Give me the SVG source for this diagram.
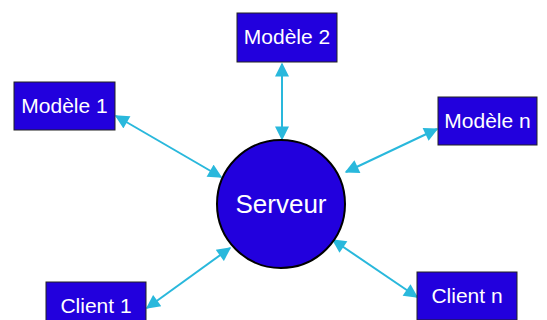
<svg xmlns="http://www.w3.org/2000/svg" width="547" height="320" viewBox="0 0 547 320">
<defs>
<style>
.box{fill:#2200DD;stroke:#222;stroke-width:1}
.lbl{fill:#fff;font-family:"Liberation Sans",Arial,sans-serif;font-size:21px;text-anchor:middle}
.con{stroke:#29B8DC;stroke-width:2;fill:none;marker-start:url(#ah);marker-end:url(#ah)}
</style>
<marker id="ah" viewBox="0 0 10 10" refX="9" refY="5" markerWidth="8" markerHeight="7" orient="auto-start-reverse" markerUnits="strokeWidth">
<path d="M0,0 L10,5 L0,10 z" fill="#29B8DC"/>
</marker>
</defs>
<rect width="547" height="320" fill="#fff"/>
<g id="connectors">
<line class="con" x1="282" y1="64" x2="282" y2="139"/>
<line class="con" x1="116" y1="116" x2="221" y2="177"/>
<line class="con" x1="437" y1="129" x2="346" y2="172"/>
<line class="con" x1="147" y1="308" x2="230" y2="248"/>
<line class="con" x1="333" y1="240" x2="417" y2="297"/>
</g>
<g id="serveur">
<circle cx="281" cy="204" r="64" fill="#2200DD" stroke="#000" stroke-width="2"/>
<text class="lbl" x="281" y="213" style="font-size:26px">Serveur</text>
</g>
<g id="modele2">
<rect class="box" x="237" y="13" width="100" height="49"/>
<text class="lbl" x="287" y="44">Modèle 2</text>
</g>
<g id="modele1">
<rect class="box" x="14" y="82" width="101" height="48"/>
<text class="lbl" x="64.5" y="113">Modèle 1</text>
</g>
<g id="modelen">
<rect class="box" x="438" y="97" width="99" height="48"/>
<text class="lbl" x="487.5" y="128">Modèle n</text>
</g>
<g id="client1">
<rect class="box" x="46" y="282" width="100" height="48"/>
<text class="lbl" x="96" y="313">Client 1</text>
</g>
<g id="clientn">
<rect class="box" x="417" y="272" width="100" height="48"/>
<text class="lbl" x="467" y="303">Client n</text>
</g>
</svg>
